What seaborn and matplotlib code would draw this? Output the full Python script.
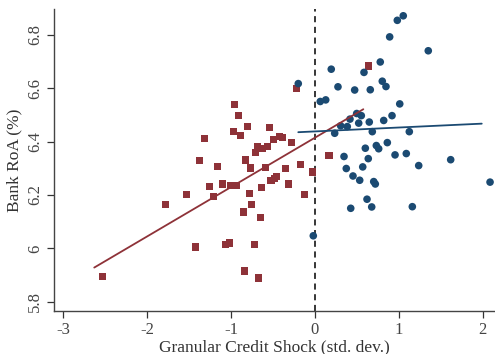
import numpy as np
import pandas as pd
import matplotlib
matplotlib.use("Agg")
import matplotlib.pyplot as plt
import seaborn as sns

# Negative-shock group (red squares)
red_x = [-0.218, -0.954, -0.906, -0.802, -0.545, -0.969, -0.882, -1.315, -0.421, -0.385,
         -0.492, -0.278, -0.683, -0.569, -0.620, -0.707, -1.371, -0.826, -1.160, -0.766,
         -0.584, -0.170, -0.027, -0.354, -0.456, -0.485, -0.524, -0.313, -1.105, -1.255,
         -1.001, -0.933, -0.635, -1.529, -1.204, -0.783, -0.123, -1.776, -0.751, -0.855,
         -0.647, -1.427, -1.064, -1.021, -0.723, -0.838, -0.671, -2.530, 0.635, 0.167]
red_y = [6.600, 6.538, 6.499, 6.458, 6.452, 6.436, 6.421, 6.413, 6.418, 6.415,
         6.409, 6.395, 6.383, 6.383, 6.373, 6.359, 6.328, 6.331, 6.306, 6.301,
         6.304, 6.315, 6.286, 6.298, 6.270, 6.261, 6.254, 6.241, 6.241, 6.230,
         6.234, 6.236, 6.229, 6.200, 6.194, 6.204, 6.200, 6.163, 6.163, 6.136,
         6.114, 6.005, 6.014, 6.020, 6.013, 5.915, 5.889, 5.895, 6.683, 6.347]

# Positive-shock group (blue circles)
blue_x = [1.052, 0.981, 0.890, 1.350, 0.778, 0.194, 0.584, -0.199, 0.802, 0.846,
          0.274, 0.473, 0.659, 0.063, 0.128, 1.010, 0.497, 0.552, 0.918, 0.417,
          0.819, 0.647, 0.521, 0.306, 0.385, 0.235, 0.683, 1.124, 0.862, 0.731,
          0.759, 0.600, 0.346, 0.635, 0.954, 1.088, 1.617, 1.236, 0.373, 0.569,
          0.453, 0.533, 0.700, 0.719, 2.086, 0.620, 0.426, 0.676, 1.160, -0.020]
blue_y = [6.871, 6.854, 6.792, 6.740, 6.698, 6.671, 6.659, 6.617, 6.626, 6.606,
          6.605, 6.593, 6.594, 6.550, 6.556, 6.541, 6.505, 6.497, 6.497, 6.484,
          6.479, 6.473, 6.469, 6.459, 6.456, 6.431, 6.437, 6.437, 6.396, 6.385,
          6.373, 6.375, 6.344, 6.336, 6.350, 6.355, 6.332, 6.310, 6.299, 6.305,
          6.271, 6.255, 6.250, 6.241, 6.248, 6.184, 6.150, 6.155, 6.156, 6.047]

# Fitted lines (endpoints)
red_fit_x = [-2.63, 0.576]
red_fit_y = [5.928, 6.521]
blue_fit_x = [-0.199, 1.987]
blue_fit_y = [6.435, 6.467]

x_ticks = [-3, -2, -1, 0, 1, 2]
y_ticks = [5.8, 6.0, 6.2, 6.4, 6.6, 6.8]
y_tick_labels = ["5.8", "6", "6.2", "6.4", "6.6", "6.8"]

RED = "#8e3238"
BLUE = "#1b4a72"

sns.set_style("ticks")
plt.rcParams["font.family"] = ["Liberation Serif", "DejaVu Serif"]

fig = plt.figure(figsize=(4.95, 3.54), dpi=100)
ax = fig.add_axes([0.109, 0.122, 0.891, 0.853])

red_df = pd.DataFrame({"x": red_x, "y": red_y})
blue_df = pd.DataFrame({"x": blue_x, "y": blue_y})

ax.axvline(0, color="black", lw=1.1, ls=(0, (4, 3)), zorder=1)

sns.scatterplot(data=red_df, x="x", y="y", marker="s", s=26, color=RED,
                edgecolor="none", ax=ax, zorder=3)
sns.scatterplot(data=blue_df, x="x", y="y", marker="o", s=30, color=BLUE,
                edgecolor="none", ax=ax, zorder=3)

sns.lineplot(x=red_fit_x, y=red_fit_y, color=RED, lw=1.3, ax=ax, sort=False,
             estimator=None, zorder=4)
sns.lineplot(x=blue_fit_x, y=blue_fit_y, color=BLUE, lw=1.3, ax=ax, sort=False,
             estimator=None, zorder=4)

ax.set_xlim(-3.11, 2.145)
ax.set_ylim(5.766, 6.897)
ax.set_xticks(x_ticks)
ax.set_xticklabels([str(t) for t in x_ticks])
ax.set_yticks(y_ticks)
ax.set_yticklabels(y_tick_labels, rotation=90, va="center")

ax.set_xlabel("Granular Credit Shock (std. dev.)", fontsize=12.5, labelpad=1,
              color="#333333")
ax.set_ylabel("Bank RoA (%)", fontsize=12.5, labelpad=3, color="#333333")
ax.tick_params(axis="both", labelsize=12, length=5, width=0.9, color="#333333",
               labelcolor="#444444", pad=3)

for side in ["top", "right"]:
    ax.spines[side].set_visible(False)
for side in ["left", "bottom"]:
    ax.spines[side].set_color("#444444")
    ax.spines[side].set_linewidth(1.0)

fig.savefig("out.png", dpi=100)
